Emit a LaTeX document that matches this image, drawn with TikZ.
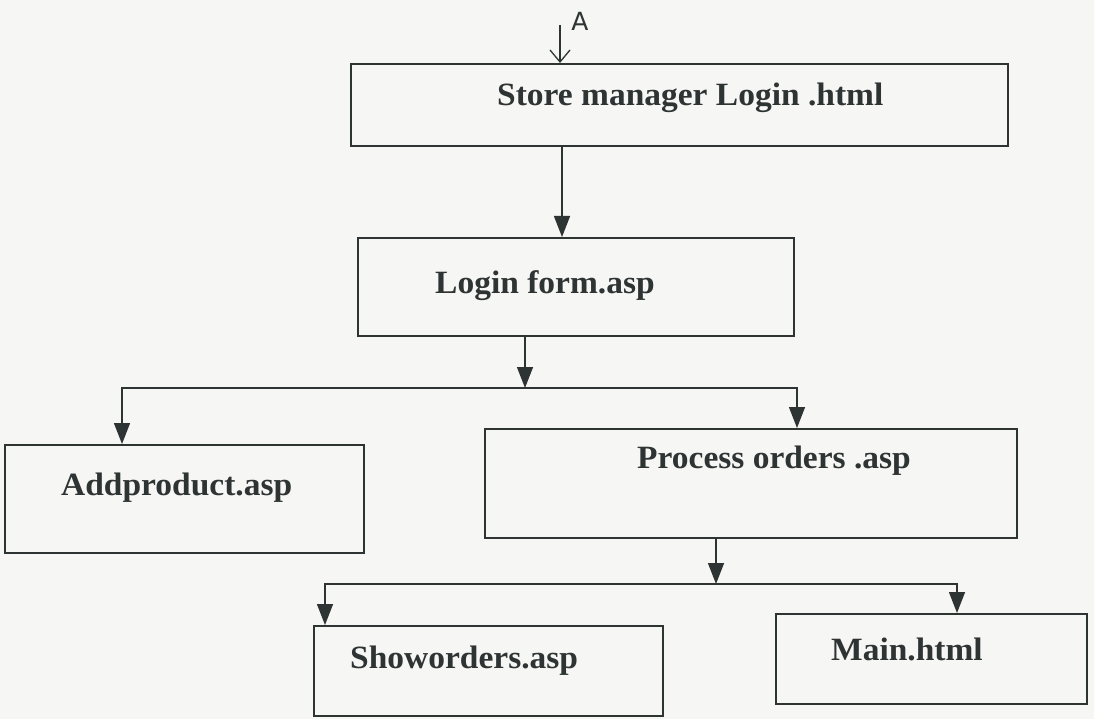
\documentclass[tikz,border=0pt]{standalone}
\usepackage{fontspec}
\setmainfont{Liberation Serif}[FakeStretch=1.03]
\newfontfamily\handfont{DejaVu Sans}
\usetikzlibrary{arrows.meta}
\definecolor{ink}{HTML}{2E3333}
\definecolor{paper}{HTML}{F6F6F4}
\tikzset{
  pagebox/.style={draw=ink, line width=1.6pt, inner sep=0pt, anchor=north west},
  lbl/.style={anchor=base west, inner sep=0pt, text=ink, font=\fontsize{32.5}{38}\selectfont\bfseries},
  conn/.style={draw=ink, line width=1.4pt},
  arr/.style={conn, -{Triangle[width=16pt,length=21pt]}},
  handarr/.style={draw=ink, line width=1.3pt, -{Straight Barb[width=20pt,length=12pt]}},
}
\begin{document}
\begin{tikzpicture}[x=1pt,y=-1pt]
\fill[paper] (0,0) rectangle (1094,719);
\useasboundingbox (0,0) rectangle (1094,719);

% boxes
\node[pagebox, minimum width=657pt, minimum height=82pt] (b1) at (350,63) {};
\node[pagebox, minimum width=436pt, minimum height=98pt] (b2) at (357,237) {};
\node[pagebox, minimum width=359pt, minimum height=108pt] (b3) at (4,444) {};
\node[pagebox, minimum width=532pt, minimum height=109pt] (b4) at (484,428) {};
\node[pagebox, minimum width=349pt, minimum height=90pt] (b5) at (313,625) {};
\node[pagebox, minimum width=311pt, minimum height=90pt] (b6) at (775,613) {};

% labels
\node[lbl] (l1) at (497,106) {Store manager Login .html};
\node[lbl] (l2) at (435,293) {Login form.asp};
\node[lbl] (l3) at (61,495) {Addproduct.asp};
\node[lbl] (l4) at (637,468) {Process orders .asp};
\node[lbl] (l5) at (350,668) {Showorders.asp};
\node[lbl] (l6) at (831,660) {Main.html};

% handwritten entry mark
\coordinate (in) at (560,25);
\node[font=\handfont\fontsize{25}{30}\selectfont, text=ink, inner sep=0pt] (la) at (580,21) {A};
\draw[handarr] (in) -- (in |- b1.north);

% connectors
\coordinate (c12) at (562,0);
\draw[arr] (c12 |- b1.south) -- (c12 |- b2.north);

\coordinate (j1) at (525,388);
\coordinate (d3) at (122,388);
\coordinate (d4) at (797,388);
\draw[arr] (j1 |- b2.south) -- (j1);
\draw[arr] (j1) -- (d3) -- (d3 |- b3.north);
\draw[arr] (j1) -- (d4) -- (d4 |- b4.north);

\coordinate (j2) at (716,584);
\coordinate (d5) at (325,584);
\coordinate (d6) at (957,584);
\draw[arr] (j2 |- b4.south) -- (j2);
\draw[arr] (j2) -- (d5) -- (d5 |- b5.north);
\draw[arr] (j2) -- (d6) -- (d6 |- b6.north);
\end{tikzpicture}
\end{document}
